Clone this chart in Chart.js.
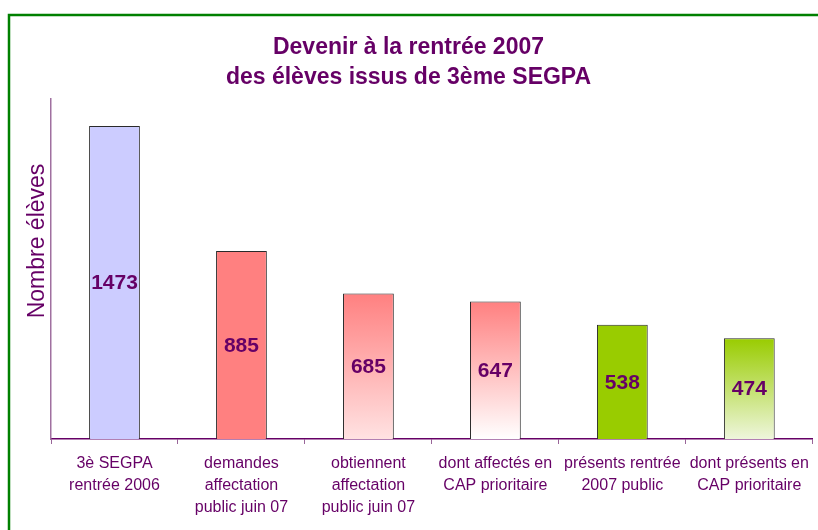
<!DOCTYPE html>
<html>
<head>
<meta charset="utf-8">
<script src="https://cdn.jsdelivr.net/npm/chart.js@4/dist/chart.umd.min.js"></script>
<style>
  html, body { margin: 0; padding: 0; background: #ffffff; }
  #wrap { width: 818px; height: 530px; position: relative; }
</style>
</head>
<body>
<div id="wrap"><canvas id="c" width="818" height="530"></canvas></div>
<script>
// ---- data ----
const categories = [
  ["3è SEGPA", "rentrée 2006"],
  ["demandes", "affectation", "public juin 07"],
  ["obtiennent", "affectation", "public juin 07"],
  ["dont affectés en", "CAP prioritaire"],
  ["présents rentrée", "2007 public"],
  ["dont présents en", "CAP prioritaire"]
];
const values = [1473, 885, 685, 647, 538, 474];
const titleLines = ["Devenir à la rentrée 2007", "des élèves issus de 3ème SEGPA"];
const yAxisTitle = "Nombre élèves";
const yMax = 1600;

// ---- styles ----
const topColors = ["#CCCCFF", "#FF8080", "#FF8080", "#FF8080", "#99CC00", "#99CC00"];
const bottomColors = [null, null, "#FFE2E2", "#FFFFFF", null, "#EEF6DC"];
const PURPLE = "#660066";
const FONT = "'Liberation Sans', Arial, sans-serif";

const framePlugin = {
  id: 'frame',
  beforeDraw(chart) {
    const c = chart.ctx;
    c.save();
    c.fillStyle = '#ffffff';
    c.fillRect(0, 0, chart.width, chart.height);
    c.strokeStyle = '#008000';
    c.lineWidth = 2.5;
    c.beginPath();
    c.moveTo(9, chart.height + 5);
    c.lineTo(9, 15);
    c.lineTo(chart.width + 5, 15);
    c.stroke();
    c.restore();
  }
};

const yTitlePlugin = {
  id: 'ytitle',
  afterDraw(chart) {
    const c = chart.ctx;
    c.save();
    c.translate(38, 241);
    c.rotate(-Math.PI / 2);
    c.font = "23px " + FONT;
    c.fillStyle = PURPLE;
    c.textAlign = 'center';
    c.textBaseline = 'middle';
    c.fillText(yAxisTitle, 0, 0);
    c.restore();
  }
};

const valueLabelPlugin = {
  id: 'valueLabels',
  afterDatasetsDraw(chart) {
    const c = chart.ctx;
    const meta = chart.getDatasetMeta(0);
    c.save();
    c.font = "bold 21px " + FONT;
    c.fillStyle = PURPLE;
    c.textAlign = 'center';
    c.textBaseline = 'middle';
    meta.data.forEach((bar, i) => {
      c.fillText(String(values[i]), bar.x, (bar.y + bar.base) / 2 + 1);
    });
    c.restore();
  }
};

function barFill(ctx) {
  const i = ctx.dataIndex;
  const chart = ctx.chart;
  if (ctx.type !== 'data' || !chart.chartArea || !bottomColors[i]) return topColors[i];
  const y = chart.scales.y;
  const yTop = y.getPixelForValue(values[i]);
  const yBot = y.getPixelForValue(0);
  const g = chart.ctx.createLinearGradient(0, yTop, 0, yBot);
  g.addColorStop(0, topColors[i]);
  g.addColorStop(1, bottomColors[i]);
  return g;
}

new Chart(document.getElementById('c'), {
  type: 'bar',
  data: {
    labels: categories,
    datasets: [{
      data: values,
      backgroundColor: barFill,
      borderColor: '#2a2a2a',
      borderWidth: 1,
      barPercentage: 0.4,
      categoryPercentage: 1.0
    }]
  },
  options: {
    responsive: false,
    animation: false,
    devicePixelRatio: 1,
    layout: { padding: { left: 0, right: 1, top: 0, bottom: 2 } },
    plugins: {
      legend: { display: false },
      tooltip: { enabled: false },
      title: {
        display: true,
        text: titleLines,
        color: PURPLE,
        font: { family: FONT, size: 23, weight: 'bold', lineHeight: '30px' },
        padding: { top: 33, bottom: 6 }
      }
    },
    scales: {
      x: {
        grid: {
          display: true,
          drawOnChartArea: false,
          drawTicks: true,
          tickLength: 5,
          offset: true,
          color: '#996699'
        },
        border: { display: true, color: PURPLE, width: 1.5 },
        ticks: {
          color: PURPLE,
          font: { family: FONT, size: 16, lineHeight: '22px' },
          padding: 9,
          maxRotation: 0,
          minRotation: 0,
          autoSkip: false
        }
      },
      y: {
        min: 0,
        max: yMax,
        grid: { display: false },
        border: { display: true, color: '#a070a0', width: 1.5 },
        ticks: { display: false },
        afterFit(scale) { scale.width = 51; }
      }
    }
  },
  plugins: [framePlugin, yTitlePlugin, valueLabelPlugin]
});
</script>
</body>
</html>
